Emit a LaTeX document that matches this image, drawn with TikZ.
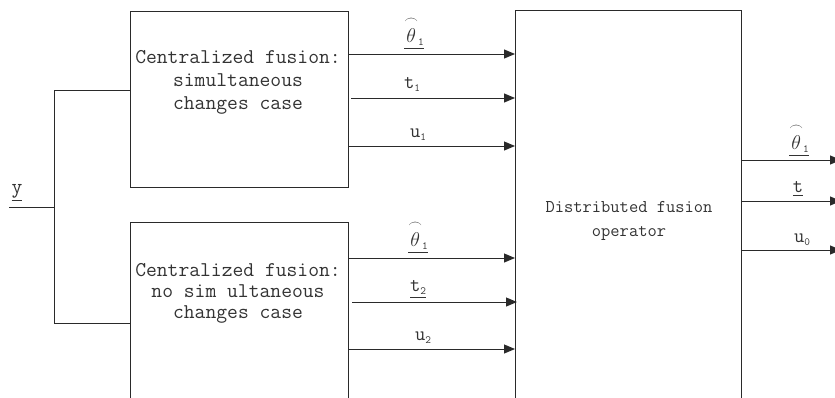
\RequirePackage{fix-cm}
\documentclass[tikz,border=0pt]{standalone}
\usepackage{amsmath}
\usepackage{fontspec}
\usetikzlibrary{arrows.meta}
\newcommand\subidx[1]{\raisebox{-0.45ex}{\fontsize{11}{11}\selectfont #1}}
\newcommand\thetahat{\underline{$\overset{\frown}{\theta}$\subidx{1}}}
\definecolor{linegray}{HTML}{2A2A2A}
\definecolor{textgray}{HTML}{333333}
\tikzset{
  block/.style={draw=linegray, line width=1pt, rectangle, inner sep=0pt, anchor=north west},
  blocktext/.style={text=textgray, align=center, font=\ttfamily\fontsize{21}{23}\selectfont, inner sep=0pt},
  sig/.style={draw=linegray, line width=1pt, -{Triangle[length=11pt,width=9pt]}},
  wire/.style={draw=linegray, line width=1pt},
  lab/.style={text=textgray, font=\ttfamily\fontsize{20}{20}\selectfont, inner sep=0pt, anchor=base},
  thlab/.style={lab, font=\ttfamily\fontsize{20}{20}\selectfont}
}
\begin{document}
\begin{tikzpicture}[x=1pt,y=-1pt]
\useasboundingbox (0,0) rectangle (835,397);
\clip (0,0) rectangle (835,397);
% blocks
\node[block, minimum width=218pt, minimum height=176pt] (upbox) at (130,11) {};
\node[block, minimum width=218pt, minimum height=200pt] (lowbox) at (130,222) {};
\node[block, minimum width=226pt, minimum height=400pt] (distbox) at (515,10) {};
% block texts
\node[blocktext] (uptext) at (238,82) {Centralized fusion:\\simultaneous\\changes case};
\node[blocktext, font=\ttfamily\fontsize{21}{21}\selectfont] (lowtext) at (238,293) {Centralized fusion:\\no sim ultaneous\\changes case};
\node[blocktext, font=\ttfamily\fontsize{18}{24}\selectfont] (disttext) at (629,221) {Distributed fusion\\operator};
% input
\coordinate (yin) at (9,207);
\coordinate (split) at (54,207);
\coordinate (jup) at (54,90);
\coordinate (jlow) at (54,323);
\node[lab, font=\ttfamily\fontsize{21}{21}\selectfont] (ylab) at (17,193) {\underline{y}};
\draw[wire] (yin) -- (split);
\draw[wire] (upbox.west |- jup) -- (jup) -- (jlow) -- (lowbox.west |- jlow);
% upper block outputs
\draw[sig] (upbox.east |- 0,54) -- (distbox.west |- 0,54);
\draw[sig] ([xshift=2pt]upbox.east |- 0,98) -- (distbox.west |- 0,98);
\draw[sig] (upbox.east |- 0,146) -- (distbox.west |- 0,146);
\node[thlab] (th1) at (414,42) {\thetahat};
\node[lab] (t1) at (412,88) {t\subidx{1}};
\node[lab] (u1) at (418,137) {u\subidx{1}};
% lower block outputs
\draw[sig] (lowbox.east |- 0,258) -- (distbox.west |- 0,258);
\draw[sig] ([xshift=3pt]lowbox.east |- 0,302) -- ([xshift=2pt]distbox.west |- 0,302);
\draw[sig] (lowbox.east |- 0,349) -- (distbox.west |- 0,349);
\node[thlab] (th2) at (418,246) {\thetahat};
\node[lab] (t2) at (418,291) {\underline{t\subidx{2}}};
\node[lab] (u2) at (423,340) {u\subidx{2}};
% final outputs
\coordinate (o1) at (841,160);
\coordinate (o2) at (841,201);
\coordinate (o3) at (841,250);
\draw[sig] (distbox.east |- o1) -- (o1);
\draw[sig] (distbox.east |- o2) -- (o2);
\draw[sig] (distbox.east |- o3) -- (o3);
\node[thlab] (th0) at (799,149) {\thetahat};
\node[lab] (t0) at (798,192) {\underline{t}};
\node[lab] (u0) at (802,242) {u\subidx{0}};
\end{tikzpicture}
\end{document}
